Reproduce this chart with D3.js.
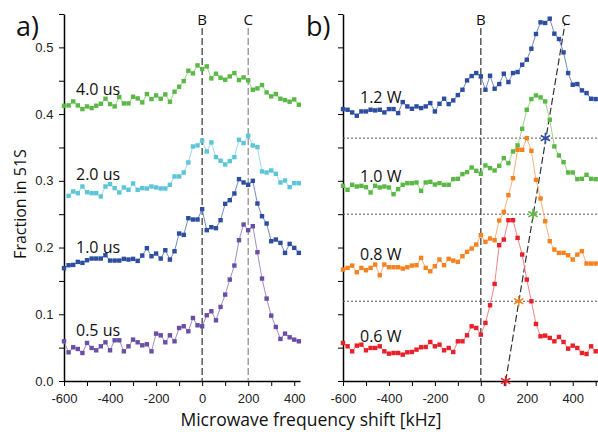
<!DOCTYPE html>
<html>
<head>
<meta charset="utf-8">
<script src="https://cdn.jsdelivr.net/npm/d3@7"></script>
<style>
    body { margin: 0; background: #fff; }
    svg { display: block; }
    .tick text { font-family: "Liberation Sans", Arial, sans-serif; font-size: 13px; fill: #222; }
    .lbl { font-family: "Open Sans", "Noto Sans", sans-serif; fill: #111; }
</style>
</head>
<body>
<div id="chart"></div>
<script>
// frequency grid [kHz]
const freqA = [-600,-580,-560,-540,-520,-500,-480,-460,-440,-420,-400,-380,-360,-340,-320,-300,-280,-260,-240,-220,
    -200,-180,-160,-140,-120,-100,-80,-60,-40,-20,0,20,40,60,80,100,120,140,160,180,200,220,240,260,280,300,320,340,
    360,380,400,420];
const freqB = freqA.concat([440,460,480,500]);

// panel a: pulse length
const us40 = [0.4125,0.413,0.419,0.413,0.4075,0.4115,0.409,0.4125,0.4155,0.423,0.415,0.4115,0.4255,0.416,0.416,0.426,
    0.4235,0.4175,0.43,0.4225,0.428,0.423,0.4295,0.4185,0.4335,0.441,0.4495,0.465,0.461,0.473,0.4675,0.4715,0.4535,
    0.4605,0.4545,0.4515,0.4565,0.4615,0.451,0.455,0.4505,0.4365,0.4385,0.4435,0.4325,0.4265,0.43,0.423,0.421,0.4185,
    0.422,0.414];
const us20 = [null,0.2775,0.284,0.2815,0.2915,0.283,0.2815,0.2815,0.2765,0.2915,0.295,0.289,0.2825,0.29,0.2865,0.296,
    0.2865,0.289,0.2885,0.2915,0.29,0.2885,0.2885,0.294,0.3065,0.3065,0.3125,0.3275,0.3515,0.353,0.3605,0.344,0.3575,
    0.3355,0.33,0.3245,0.3295,0.3355,0.3615,0.3565,0.3675,0.353,0.3505,0.314,0.3125,0.3155,0.3105,0.2975,0.3005,0.2905,
    0.2965,0.2965];
const us10 = [0.169,0.1735,0.174,0.1785,0.177,0.181,0.1835,0.1835,0.1835,0.1885,0.1805,0.1805,0.1805,0.183,0.182,0.183,
    0.18,0.188,0.199,0.187,0.191,0.1835,0.196,0.182,0.1945,0.221,0.219,0.244,0.242,0.242,0.2575,0.226,0.2305,0.229,0.241,
    0.2655,0.271,0.281,0.3025,0.2975,0.294,0.3,0.266,0.247,0.236,0.2095,0.212,0.207,0.192,0.2055,0.1995,0.192];
const us05 = [0.0595,0.043,0.0505,0.048,0.042,0.057,0.0495,0.046,0.052,0.058,0.046,0.061,0.061,0.0445,0.052,0.062,0.058,
    0.0535,0.055,0.0445,0.071,0.0685,0.058,0.0685,0.0595,0.0795,0.082,0.0745,0.0945,0.0835,0.082,0.0985,0.1045,0.091,
    0.111,0.1295,0.152,0.173,0.211,0.2345,0.226,0.232,0.193,0.1535,0.1235,0.098,0.081,0.063,0.071,0.0655,0.062,0.0595];

// panel b: microwave power
const w12 = [0.4075,0.4065,0.4025,0.3975,0.404,0.404,0.4065,0.4055,0.4065,0.4025,0.4075,0.4075,0.4015,0.418,0.4115,
    0.408,0.4115,0.409,0.4115,0.4165,0.404,0.4155,0.423,0.415,0.4205,0.4285,0.4365,0.4505,0.457,0.4615,0.4565,0.4365,
    0.4575,0.438,0.445,0.4605,0.448,0.4615,0.463,0.474,0.4815,0.498,0.52,0.5375,0.5365,0.543,0.5205,0.5125,0.4925,
    0.4615,0.444,0.445,0.4355,0.4315,0.423,0.4225];
const w10 = [0.2925,0.2865,0.294,0.2915,0.2925,0.2905,0.2825,0.2925,0.29,0.2915,0.29,0.28,0.2875,0.294,0.2965,0.2965,
    0.2975,0.285,0.2975,0.2985,0.2945,0.2965,0.294,0.294,0.3025,0.303,0.31,0.313,0.32,0.315,0.3105,0.323,0.319,0.3155,
    0.3225,0.334,0.3265,0.344,0.353,0.378,0.4065,0.4225,0.428,0.425,0.419,0.3915,0.3515,0.338,0.328,0.3125,0.3125,
    0.3025,0.303,0.309,0.303,0.3025];
const w08 = [0.167,0.1695,0.173,0.163,0.1695,0.166,0.1695,0.1745,0.1585,0.1745,0.1705,0.1705,0.1705,0.1685,0.1705,
    0.173,0.1735,0.1845,0.1695,0.1645,0.172,0.182,0.1735,0.183,0.1805,0.1785,0.187,0.1935,0.1985,0.2045,0.2185,0.2085,
    0.2135,0.211,0.2405,0.2535,0.2785,0.304,0.3465,0.3465,0.364,0.345,0.3015,0.2735,0.2395,0.2095,0.197,0.192,0.192,
    0.1885,0.182,0.1895,0.1945,0.176,0.176,0.176];
const w06 = [0.057,0.052,0.0445,0.053,0.0545,0.046,0.0495,0.0495,0.052,0.0445,0.041,0.042,0.042,0.0395,0.043,0.0435,
    0.047,0.0505,0.051,0.0585,0.052,0.0545,0.046,0.0495,0.0435,0.0595,0.0595,0.0685,0.082,0.0795,0.0695,0.087,0.1135,
    0.1455,0.2035,0.212,0.241,0.241,0.2145,0.1895,0.152,0.1195,0.0855,0.067,0.068,0.0645,0.0595,0.066,0.0585,0.0485,
    0.053,0.0495,0.042,0.0405,0.052,0.0445];

// half-height crossings in panel b and the C line through them
const starFreq = [108, 165, 227, 281];
const starLevel = [0, 0.1195, 0.25, 0.364];
const cLine = [[108, 0], [366, 0.535]];

const xTicks = [-600, -400, -200, 0, 200, 400];

const width = 598, height = 432;
const yScale = d3.scaleLinear().domain([0, 0.55]).range([381, 14]);

const svg = d3.select("#chart").append("svg")
    .attr("width", width)
    .attr("height", height);

function drawPanel(xDomain, xRange, showYLabels) {
    const xScale = d3.scaleLinear().domain(xDomain).range(xRange);

    const xAxis = d3.axisBottom(xScale)
        .tickValues(d3.range(-600, xDomain[1], 100))
        .tickSize(5).tickSizeOuter(0)
        .tickFormat(d => xTicks.includes(d) ? d : "");
    svg.append("g").attr("transform", `translate(0,${yScale(0)})`).call(xAxis)
        .call(g => g.select(".domain").attr("stroke-width", 1.5))
        .call(g => g.selectAll(".tick text").attr("dy", "1.05em"));

    const yAxis = d3.axisLeft(yScale)
        .tickValues(d3.range(0, 0.56, 0.05))
        .tickSize(5).tickSizeOuter(0)
        .tickFormat((d, i) => showYLabels && i % 2 === 0 && i < 11 ? d3.format(".1f")(d) : "");
    svg.append("g").attr("transform", `translate(${xRange[0]},0)`).call(yAxis)
        .call(g => g.select(".domain").attr("stroke-width", 1.5))
        .call(g => g.selectAll(".tick text").attr("dx", "-0.2em"));

    return xScale;
}

function drawSeries(xScale, freq, values, color, lineColor) {
    const pts = freq.map((f, i) => ({ f: f, v: values[i] })).filter(d => d.v != null);
    const line = d3.line().x(d => xScale(d.f)).y(d => yScale(d.v));
    svg.append("path").datum(pts)
        .attr("d", line)
        .attr("fill", "none")
        .attr("stroke", lineColor)
        .attr("stroke-width", 1);
    svg.append("g").selectAll("rect").data(pts).join("rect")
        .attr("x", d => xScale(d.f) - 2.2)
        .attr("y", d => yScale(d.v) - 2.2)
        .attr("width", 4.4)
        .attr("height", 4.4)
        .attr("fill", color);
}

function vDash(xScale, f, color) {
    svg.append("line")
        .attr("x1", xScale(f)).attr("x2", xScale(f))
        .attr("y1", 28).attr("y2", yScale(0))
        .attr("stroke", color).attr("stroke-width", 1.2)
        .attr("stroke-dasharray", "7,3");
}

function label(x, y, text, size) {
    svg.append("text").attr("class", "lbl")
        .attr("x", x).attr("y", y)
        .attr("font-size", size)
        .text(text);
}

// panel a
const xA = drawPanel([-600, 425], [64, 300], true);
vDash(xA, 0, "#333");
vDash(xA, 200, "#888");
drawSeries(xA, freqA, us40, "#5ab946", "#9ed48a");
drawSeries(xA, freqA, us20, "#5cc6d8", "#9bdbe6");
drawSeries(xA, freqA, us10, "#2c4da0", "#7589c6");
drawSeries(xA, freqA, us05, "#6a4ea6", "#9f8fca");

// panel b
const xB = drawPanel([-600, 510], [343, 598], false);
starLevel.slice(1).forEach(v => {
    svg.append("line")
        .attr("x1", 343).attr("x2", 598)
        .attr("y1", yScale(v)).attr("y2", yScale(v))
        .attr("stroke", "#555").attr("stroke-width", 1)
        .attr("stroke-dasharray", "2,2");
});
vDash(xB, 0, "#333");
svg.append("path").datum(cLine)
    .attr("d", d3.line().x(d => xB(d[0])).y(d => yScale(d[1])))
    .attr("stroke", "#333").attr("stroke-width", 1.2)
    .attr("stroke-dasharray", "7,3").attr("fill", "none");
drawSeries(xB, freqB, w12, "#2c4da0", "#7589c6");
drawSeries(xB, freqB, w10, "#5ab946", "#9ed48a");
drawSeries(xB, freqB, w08, "#f5821f", "#f8b07a");
drawSeries(xB, freqB, w06, "#e8202a", "#ef8487");

const starColors = ["#e8202a", "#f5821f", "#5ab946", "#2c4da0"];
svg.append("g").selectAll("path").data(starFreq).join("path")
    .attr("transform", (d, i) => `translate(${xB(d)},${yScale(starLevel[i])})`)
    .attr("d", d3.symbol(d3.symbolAsterisk, 80))
    .attr("fill", "none")
    .attr("stroke", (d, i) => starColors[i])
    .attr("stroke-width", 1.6);

// text
label(16, 36, "a)", 27);
label(306, 36, "b)", 27);
svg.selectAll(".letter").data([[xA(0), "B"], [xA(200), "C"], [xB(0), "B"], [566, "C"]]).join("text")
    .attr("class", "lbl letter")
    .attr("x", d => d[0]).attr("y", 25)
    .attr("text-anchor", "middle")
    .attr("font-size", 15)
    .text(d => d[1]);

label(76, 95, "4.0 us", 16);
label(76, 180, "2.0 us", 16);
label(76, 253, "1.0 us", 16);
label(76, 336, "0.5 us", 16);
label(360, 103, "1.2 W", 16);
label(360, 182, "1.0 W", 16);
label(360, 260, "0.8 W", 16);
label(360, 342, "0.6 W", 16);

svg.append("text").attr("class", "lbl")
    .attr("x", 311).attr("y", 426)
    .attr("text-anchor", "middle")
    .attr("font-size", 17.5)
    .text("Microwave frequency shift [kHz]");
svg.append("text").attr("class", "lbl")
    .attr("transform", "translate(26,204) rotate(-90)")
    .attr("text-anchor", "middle")
    .attr("font-size", 16)
    .text("Fraction in 51S");
</script>
</body>
</html>
